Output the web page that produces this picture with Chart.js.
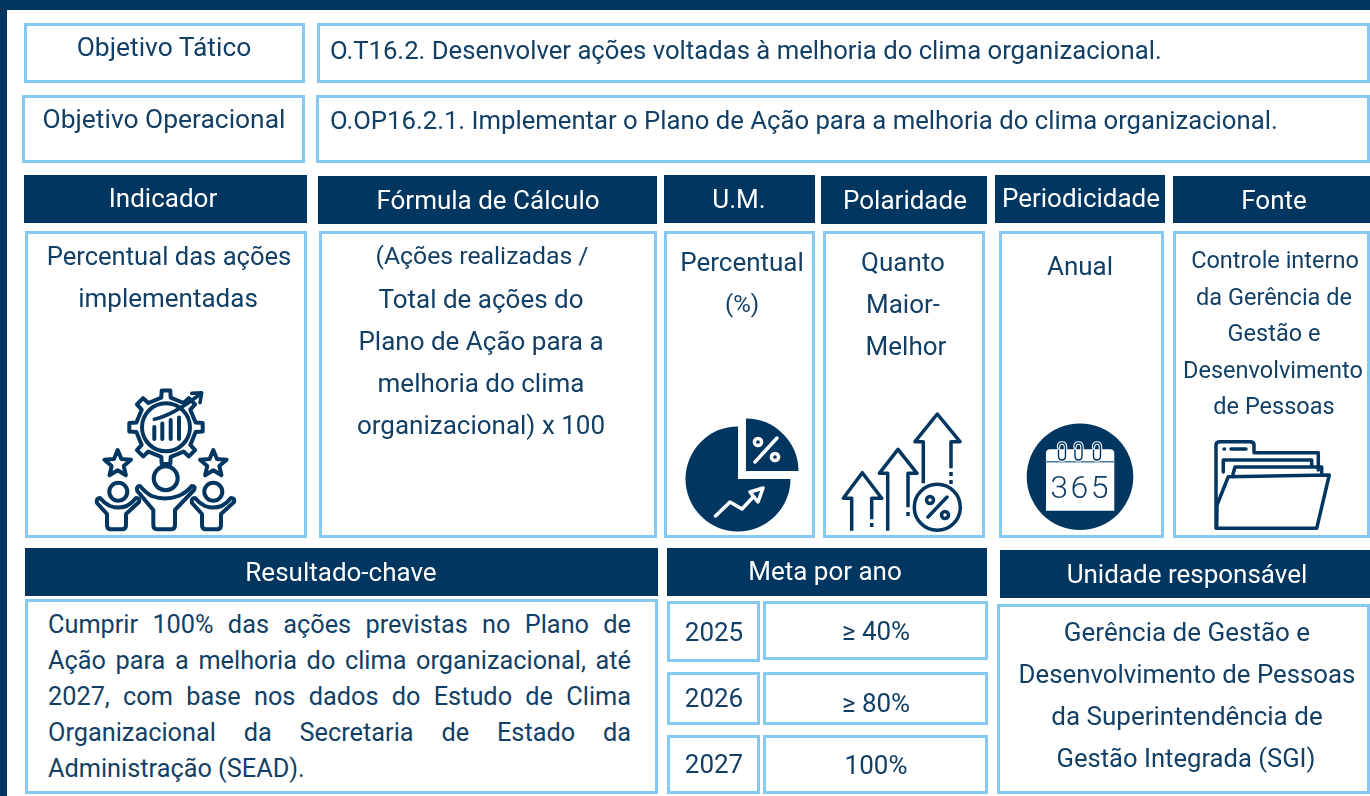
<!DOCTYPE html>
<html lang="pt-BR">
<head>
<meta charset="utf-8">
<title>Objetivo O.OP16.2.1</title>
<script src="https://cdn.jsdelivr.net/npm/chart.js@4"></script>
<style>
  html, body { margin: 0; padding: 0; }
  body { position: relative; width: 1370px; height: 796px; overflow: hidden; background: #003660; font-family: Roboto, sans-serif; color: #123f66; }
  #fundo { position: absolute; left: 7px; top: 10px; right: 0; bottom: 0; background: #fff; }
  .caixa { position: absolute; box-sizing: border-box; border: 3px solid #85c9f3; background: #fff; }
  .cab { position: absolute; background: #003660; }
  .txt { position: absolute; white-space: nowrap; transform: translate(-50%, -50%); font-size: 26px; line-height: 30px; }
  .esq { transform: translate(0, -50%); }
  .branco { color: #fff; }
  #icones { position: absolute; left: 0; top: 0; }
  #pizzaBox { position: absolute; left: 663px; top: 404px; width: 150px; height: 150px; }
  #resultado { position: absolute; left: 48px; top: 607px; width: 583px; font-size: 25.3px; line-height: 36px; text-align: justify; }
</style>
</head>
<body>
<div id="fundo"></div>
<div id="pizzaBox"><canvas id="pizza"></canvas></div>
<div id="resultado">Cumprir 100% das ações previstas no Plano de Ação para a melhoria do clima organizacional, até 2027, com base nos dados do Estudo de Clima Organizacional da Secretaria de Estado da Administração (SEAD).</div>
<svg id="icones" width="1370" height="796" fill="none" stroke="#003660" stroke-width="3.5" stroke-linejoin="round" stroke-linecap="round">
  <!-- indicador -->
  <path id="engrenagem" stroke-width="4"/>
  <circle cx="166" cy="427.3" r="24" stroke-width="4"/>
  <path d="M154.3 439V427M162.3 439V423.5M170.7 439V420M179 439V417.5" stroke-width="4"/>
  <path d="M154.3 419.3Q173 415 199 395M191.7 393.3L201.7 392.7L200 402.7" stroke-width="3.5"/>
  <path id="estrela1" stroke-width="4"/>
  <path id="estrela2" stroke-width="4"/>
  <circle cx="165.7" cy="478.3" r="12" stroke-width="4"/>
  <path d="M140 486Q146 493 151.7 496Q165 501 178.3 496Q186 493 191.7 486Q196 486 194 490L175 510V525Q175 529.3 171 529.3H158Q153.3 529.3 153.3 525V510L137.3 491Q136 486 140 486Z" stroke-width="4"/>
  <g id="pessoa" stroke-width="4">
    <circle cx="118.3" cy="491.7" r="9"/>
    <path d="M100 498Q104 503 110 506Q118 509 126.7 506Q132 503 136 498Q140 498 139 502L126 514V525Q126 529.3 122 529.3H111Q107 529.3 107 525V514L97 503Q96 498 100 498Z"/>
  </g>
  <use href="#pessoa" transform="translate(95 0)"/>
  <!-- percentual -->
  <g stroke="#fff" stroke-width="3.5">
    <circle cx="758" cy="442" r="3.6"/>
    <circle cx="775" cy="457" r="3.6"/>
    <path d="M777 438L755 462"/>
    <path d="M715.5 516L730 502L742 509L756 494"/>
    <path d="M763 488L750 492L758 502Z" fill="#003660"/>
  </g>
  <!-- polaridade -->
  <path d="M851.7 530.7V498.3H843.3L862.3 472.7L881.7 498.3H871.7V519.3M871.7 523V527M887.7 530.7V473.3H879.3L898 449.3L917 473.3H908V507.3M908 512V516M923.3 483.3V441.7H915L937.3 414L960 441.7H951V468.3M951 472V476M951 480V484" stroke-linecap="butt"/>
  <circle cx="937.3" cy="507.3" r="23"/>
  <circle cx="930" cy="500" r="3.5"/>
  <circle cx="945" cy="515" r="3.5"/>
  <path d="M947 497L928 517"/>
  <!-- periodicidade -->
  <circle cx="1080" cy="476.7" r="53.3" fill="#003660" stroke="none"/>
  <path d="M1046 510.7V453Q1046 449.3 1050 449.3H1110Q1114.3 449.3 1114.3 453V510.7Z" fill="#fff" stroke="none"/>
  <path d="M1046 461.7H1114.3" stroke="#4f7a9b" stroke-width="1.5"/>
  <g id="anel">
    <path d="M1058.5 447Q1058.5 443 1062 443Q1065.5 443 1065.5 447V456Q1065.5 460 1062 460Q1058.5 460 1058.5 456V450" stroke="#fff" stroke-width="3.5"/>
    <path d="M1058.5 447Q1058.5 443 1062 443Q1065.5 443 1065.5 447V456Q1065.5 460 1062 460Q1058.5 460 1058.5 456V450" stroke-width="1.4"/>
  </g>
  <use href="#anel" transform="translate(16.5 0)"/>
  <use href="#anel" transform="translate(35 0)"/>
  <text x="1080.5" y="498" text-anchor="middle" fill="#123f66" stroke="none" font-family="Roboto" font-weight="300" font-size="32" letter-spacing="2.5">365</text>
  <!-- fonte -->
  <path d="M1216 528.3V445Q1216 441.7 1220 441.7H1250Q1254 441.7 1254 445V452.7H1318.3V470M1223.3 472V460H1311.7V467M1233 474L1235 467H1321.7V475M1217 505L1228.3 476.7L1329.3 475L1316.7 528.3H1216.7Z"/>
  <path d="M1224 449H1224.5M1231 449H1246"/>
</svg>
<script>
// valores da meta por ano
const anos = ['2025', '2026', '2027'];
const metas = [40, 80, 100];
const prefixoMeta = ['≥ ', '≥ ', ''];

// fatias do icone de pizza (a de cima sai do circulo)
const fatias = [25, 75];
const deslocFatias = [45, 0];

const cabecalhos = [
  ['Indicador', 24, 175, 283, 48, 163, 198],
  ['Fórmula de Cálculo', 318, 176, 339, 48, 488, 200],
  ['U.M.', 664, 175, 151, 48, 739, 199],
  ['Polaridade', 821, 176, 166, 48, 905, 200],
  ['Periodicidade', 995, 175, 170, 48, 1081, 198],
  ['Fonte', 1173, 176, 197, 47, 1274, 200],
  ['Resultado-chave', 25, 548, 633, 48, 341, 572],
  ['Meta por ano', 667, 548, 320, 48, 825, 571],
  ['Unidade responsável', 1000, 550, 370, 48, 1187, 574]
];

const caixas = [
  [24, 23, 281, 60], [317, 23, 1053, 60], [22, 95, 283, 68], [316, 95, 1054, 68],
  [25, 231, 282, 307], [319, 231, 338, 307], [664, 231, 151, 307], [823, 231, 162, 307],
  [999, 231, 165, 307], [1173, 231, 197, 307],
  [25, 599, 633, 195], [997, 604, 373, 190],
  [667, 601, 93, 61], [763, 601, 225, 59], [667, 672, 93, 53], [763, 672, 225, 53], [667, 735, 93, 59], [763, 735, 225, 59]
];

const textos = [
  ['Percentual das ações', 169, 256, 25.6], ['implementadas', 168, 298],
  ['(Ações realizadas /', 482, 256, 24.8], ['Total de ações do', 481, 299], ['Plano de Ação para a', 481, 341],
  ['melhoria do clima', 481, 383], ['organizacional) x 100', 481, 425],
  ['Percentual', 742, 262], ['(%)', 742, 304, 24],
  ['Quanto', 903, 262], ['Maior-', 903, 304], ['Melhor', 906, 346],
  ['Anual', 1080, 266],
  ['Gerência de Gestão e', 1187, 632], ['Desenvolvimento de Pessoas', 1187, 674, 25.8],
  ['da Superintendência de', 1187, 716], ['Gestão Integrada (SGI)', 1186, 758, 25.6]
];
const textosObjetivo = [['Objetivo Tático', 164, 47], ['Objetivo Operacional', 164, 119]];
const textosFonte = [
  ['Controle interno', 1275, 260], ['da Gerência de', 1274, 297], ['Gestão e', 1274, 333],
  ['Desenvolvimento', 1273, 370], ['de Pessoas', 1274, 406]
];
const textosEsq = [
  ['O.T16.2. Desenvolver ações voltadas à melhoria do clima organizacional.', 330, 50],
  ['O.OP16.2.1. Implementar o Plano de Ação para a melhoria do clima organizacional.', 330, 120]
];
const yAno = [632, 698, 764];
const yMeta = [631, 703, 765];

function bloco(cls, x, y, w, h) {
  const d = document.createElement('div');
  d.className = cls;
  d.style.cssText = `left:${x}px;top:${y}px;width:${w}px;height:${h}px`;
  document.body.insertBefore(d, document.getElementById('pizzaBox'));
}
function escreve(texto, x, y, cls, tam) {
  const s = document.createElement('div');
  s.className = 'txt ' + (cls || '');
  s.textContent = texto;
  s.style.left = x + 'px';
  s.style.top = y + 'px';
  if (tam) s.style.fontSize = tam + 'px';
  document.body.appendChild(s);
}

caixas.forEach(c => bloco('caixa', c[0], c[1], c[2], c[3]));
cabecalhos.forEach(c => {
  bloco('cab', c[1], c[2], c[3], c[4]);
  escreve(c[0], c[5], c[6], 'branco');
});
textos.forEach(t => escreve(t[0], t[1], t[2], '', t[3]));
textosObjetivo.forEach(t => escreve(t[0], t[1], t[2], '', 26.4));
textosFonte.forEach(t => escreve(t[0], t[1], t[2], '', 23.5));
textosEsq.forEach(t => escreve(t[0], t[1], t[2], 'esq', 25.7));
anos.forEach((a, i) => {
  escreve(a, 714, yAno[i]);
  escreve(prefixoMeta[i] + metas[i] + '%', 876, yMeta[i]);
});

function engrenagem(cx, cy, rIn, rOut, dentes) {
  const pts = [];
  const passo = Math.PI * 2 / dentes;
  for (let i = 0; i < dentes; i++) {
    const a = i * passo - Math.PI / 2;
    const larg = passo * 0.2, larg2 = passo * 0.15;
    pts.push([a - larg, rIn], [a - larg2, rOut], [a + larg2, rOut], [a + larg, rIn]);
  }
  return 'M' + pts.map(p => (cx + Math.cos(p[0]) * p[1]).toFixed(1) + ' ' + (cy + Math.sin(p[0]) * p[1]).toFixed(1)).join('L') + 'Z';
}
function estrela(cx, cy, R) {
  const pts = [];
  for (let i = 0; i < 10; i++) {
    const a = i * Math.PI / 5 - Math.PI / 2;
    const r = i % 2 ? R * 0.45 : R;
    pts.push((cx + Math.cos(a) * r).toFixed(1) + ' ' + (cy + Math.sin(a) * r).toFixed(1));
  }
  return 'M' + pts.join('L') + 'Z';
}
document.getElementById('engrenagem').setAttribute('d', engrenagem(166, 427.3, 30, 37, 8));
document.getElementById('estrela1').setAttribute('d', estrela(117.7, 464, 14));
document.getElementById('estrela2').setAttribute('d', estrela(213.3, 464, 14));

new Chart(document.getElementById('pizza'), {
  type: 'pie',
  data: {
    labels: ['Percentual', 'Restante'],
    datasets: [{ data: fatias, offset: deslocFatias, backgroundColor: '#003660', borderWidth: 0 }]
  },
  options: {
    responsive: true,
    maintainAspectRatio: false,
    animation: false,
    plugins: { legend: { display: false }, tooltip: { enabled: false } }
  }
});
</script>
</body>
</html>
